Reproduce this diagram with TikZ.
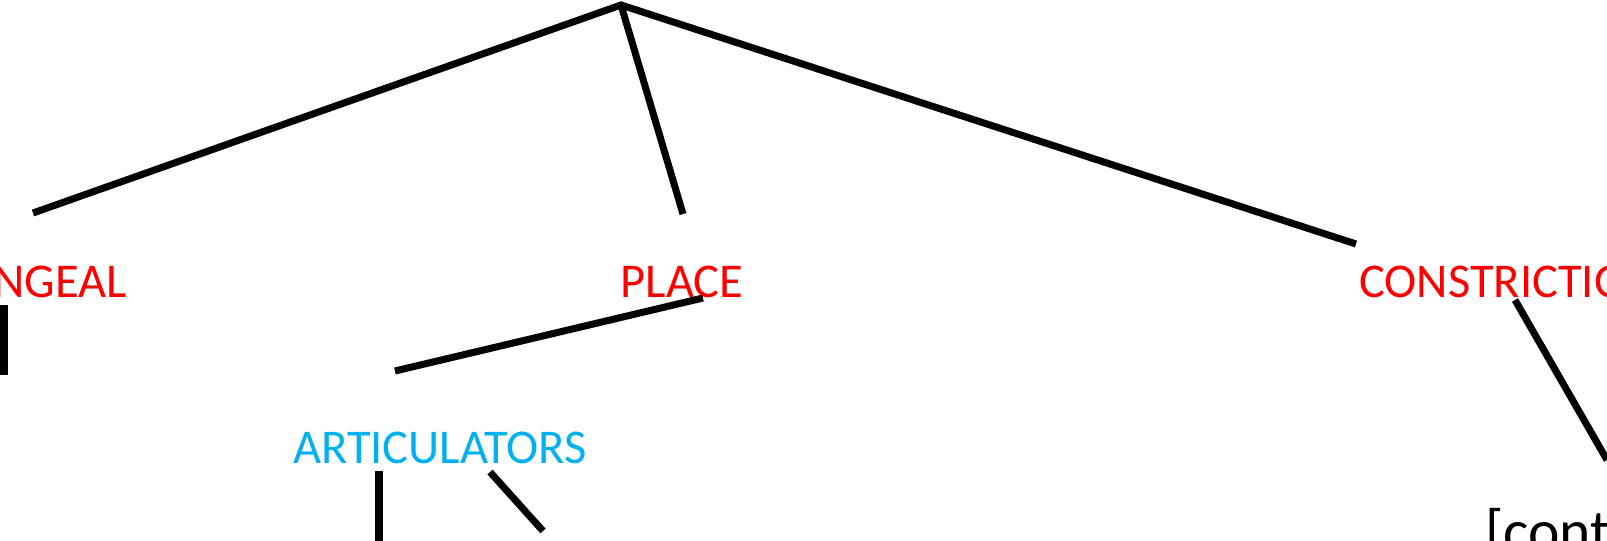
\documentclass[tikz,border=0pt]{standalone}
\usepackage{fontspec}
\setmainfont{Carlito}
\usepackage{tikz}
\usetikzlibrary{positioning}

\begin{document}
\begin{tikzpicture}[
x=0.02cm, y=-0.02cm,
feat/.style={font=\fontsize{27.6pt}{32pt}\selectfont, inner sep=0pt},
red feat/.style={feat, text={rgb,255:red,255;green,0;blue,0}},
blue feat/.style={feat, text={rgb,255:red,0;green,176;blue,240}},
branch/.style={line width=4pt} ]

\useasboundingbox (0,0) rectangle (1607,541);
\clip (0,0) rectangle (1607,541);

\node[red feat, anchor=base east](lar) at (127,297) {LARYNGEAL};

\node[red feat, anchor=base](place) at (682,297) {PLACE};

\node[red feat, anchor=base west](constr) at (1359,297) {CONSTRICTION};

\node[blue feat, anchor=base](artic) at (440,463) {ARTICULATORS};

\node[feat, anchor=base west, font=\fontsize{34pt}{40pt}\selectfont](cont) at (1485,551) {[continuant]};

\coordinate (root) at (621,5);
\coordinate (lar top) at (33,213);
\coordinate (place top) at (683,214);
\coordinate (constr top) at (1356,244);
\coordinate (lar foot) at (4,305);
\coordinate (lar end) at (4,375);
\coordinate (place foot) at (703,298);
\coordinate (artic top) at (395,371);
\coordinate (artic foot a) at (379,471);
\coordinate (artic end a) at (379,545);
\coordinate (artic foot b) at (490,472);
\coordinate (artic end b) at (543,531);
\coordinate (constr foot) at (1515,300);
\coordinate (cont top) at (1607,460);

\draw[branch] (lar top) -- (root) -- (constr top);

\draw[branch] (root) -- (place top);

\draw[branch] (lar foot) -- (lar end);

\draw[branch] (place foot) -- (artic top);

\draw[branch] (artic foot a) -- (artic end a);

\draw[branch] (artic foot b) -- (artic end b);

\draw[branch] (constr foot) -- (cont top);

\end{tikzpicture}
\end{document}
